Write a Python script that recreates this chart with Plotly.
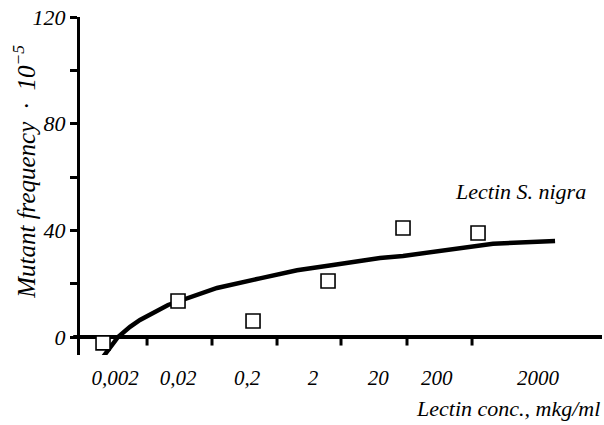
import plotly.graph_objects as go

# Data (x as position index along the concentration axis)
point_x = [0, 1, 2, 3, 4, 5]
point_y = [-2.2, 13.5, 6.0, 21.0, 40.9, 39.0]

curve_x = [0.0, 0.093, 0.2, 0.36, 0.493, 0.867, 1.16, 1.52, 2.093, 2.587, 3.067, 3.693, 4.0, 4.627, 5.2, 6.027]
curve_y = [-7.5, -4.0, 0.0, 3.8, 6.4, 12.0, 15.0, 18.4, 22.0, 25.0, 27.0, 29.6, 30.4, 33.0, 35.0, 36.0]

xtick_pos = [0.587, 1.453, 2.32, 3.173, 4.053, 4.92]
xlabel_pos = [0.16, 1.0, 1.92, 2.8, 3.67, 4.45, 5.8]
xlabel_text = ["0,002", "0,02", "0,2", "2", "20", "200", "2000"]
ytick_vals = [0, 40, 80, 120]
yminor_vals = [20, 60, 100]

FONT = "Liberation Serif"

fig = go.Figure()

# x-axis tick marks drawn at y = 0
tx, ty = [], []
for t in xtick_pos:
    tx += [t, t, None]
    ty += [0, -3.2, None]
fig.add_trace(go.Scatter(x=tx, y=ty, mode="lines",
                         line=dict(color="black", width=3),
                         hoverinfo="skip", showlegend=False))

fig.add_trace(go.Scatter(x=curve_x, y=curve_y, mode="lines",
                         line=dict(color="black", width=4.5),
                         showlegend=False))

fig.add_trace(go.Scatter(x=point_x, y=point_y, mode="markers",
                         marker=dict(symbol="square", size=14, color="white",
                                     line=dict(color="black", width=1.6)),
                         showlegend=False))

fig.add_shape(type="line", xref="paper", yref="y", x0=-0.013, x1=1, y0=0, y1=0,
              line=dict(color="black", width=4), layer="below")

fig.update_layout(
    width=604, height=425,
    margin=dict(l=80, r=2, t=17, b=70),
    paper_bgcolor="white", plot_bgcolor="white",
    font=dict(family=FONT, size=20, color="black"),
    xaxis=dict(range=[-0.307, 6.653], showgrid=False, zeroline=False,
               showline=False, tickmode="array", tickvals=xlabel_pos,
               ticktext=["<i>%s</i>" % t for t in xlabel_text],
               ticks="outside", ticklen=4, tickcolor="rgba(0,0,0,0)",
               tickfont=dict(family=FONT, size=21)),
    yaxis=dict(range=[-6.75, 120], showgrid=False, zeroline=False,
               showline=True, linecolor="black", linewidth=3,
               tickmode="array", tickvals=ytick_vals,
               ticktext=["<i>%d</i>" % v for v in ytick_vals],
               ticks="outside", ticklen=7, tickwidth=3, tickcolor="black",
               minor=dict(tickvals=yminor_vals, ticks="outside", ticklen=7,
                          tickwidth=3, tickcolor="black"),
               tickfont=dict(family=FONT, size=22)),
    annotations=[
        dict(text="<i>Lectin S. nigra</i>", xref="x", yref="y", x=4.667, y=54.4,
             xanchor="left", yanchor="middle", showarrow=False,
             font=dict(family=FONT, size=22)),
        dict(text="<i>Lectin conc., mkg/ml</i>", xref="paper", yref="paper",
             x=1, y=-0.157, xanchor="right", yanchor="middle", showarrow=False,
             font=dict(family=FONT, size=22)),
        dict(text="<i>Mutant frequency&nbsp;&nbsp;·&nbsp;&nbsp;10<sup>−5</sup></i>",
             xref="paper", yref="y",
             x=-0.107, y=62, xanchor="center", yanchor="middle", textangle=-90,
             showarrow=False, font=dict(family=FONT, size=25)),
    ],
)

fig.write_html("out.html", config={"displayModeBar": False},
               post_script="document.body.style.margin='0';")
